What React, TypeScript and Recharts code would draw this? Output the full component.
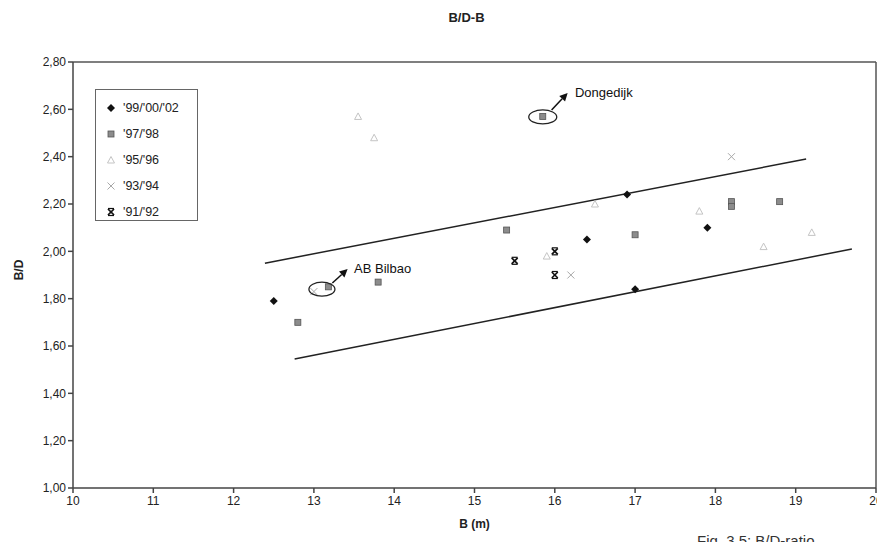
import React from "react";
import {
  ScatterChart,
  Scatter,
  XAxis,
  YAxis,
  Legend,
  ReferenceLine,
  ReferenceDot,
} from "recharts";

// ---- data ----
const s99_00_02 = [
  { x: 12.5, y: 1.79 },
  { x: 16.4, y: 2.05 },
  { x: 16.9, y: 2.24 },
  { x: 17.0, y: 1.84 },
  { x: 17.9, y: 2.1 },
];
const s97_98 = [
  { x: 12.8, y: 1.7 },
  { x: 13.18, y: 1.85 },
  { x: 13.8, y: 1.87 },
  { x: 15.4, y: 2.09 },
  { x: 15.85, y: 2.57 },
  { x: 17.0, y: 2.07 },
  { x: 18.2, y: 2.21 },
  { x: 18.2, y: 2.19 },
  { x: 18.8, y: 2.21 },
];
const s95_96 = [
  { x: 13.55, y: 2.57 },
  { x: 13.75, y: 2.48 },
  { x: 15.9, y: 1.98 },
  { x: 16.5, y: 2.2 },
  { x: 17.8, y: 2.17 },
  { x: 18.6, y: 2.02 },
  { x: 19.2, y: 2.08 },
];
const s93_94 = [
  { x: 13.0, y: 1.83 },
  { x: 16.2, y: 1.9 },
  { x: 18.2, y: 2.4 },
];
const s91_92 = [
  { x: 15.5, y: 1.96 },
  { x: 16.0, y: 2.0 },
  { x: 16.0, y: 1.9 },
];

const upperBand = [
  { x: 12.39, y: 1.95 },
  { x: 19.13, y: 2.39 },
];
const lowerBand = [
  { x: 12.76, y: 1.545 },
  { x: 19.7, y: 2.01 },
];

const xTicks = [10, 11, 12, 13, 14, 15, 16, 17, 18, 19, 20];
const yTicks = [1.0, 1.2, 1.4, 1.6, 1.8, 2.0, 2.2, 2.4, 2.6, 2.8];

// annotations
const bilbaoCircle = { x: 13.1, y: 1.84 };
const bilbaoArrow = [
  { x: 13.23, y: 1.866 },
  { x: 13.42, y: 1.925 },
];
const bilbaoText = { x: 13.5, y: 1.91, label: "AB Bilbao" };
const dongeCircle = { x: 15.85, y: 2.568 };
const dongeArrow = [
  { x: 15.96, y: 2.597 },
  { x: 16.16, y: 2.669 },
];
const dongeText = { x: 16.25, y: 2.652, label: "Dongedijk" };

const FONT = '"Liberation Sans", Arial, sans-serif';

// ---- marker shapes ----
type M = { cx: number; cy: number };

const Diamond = ({ cx, cy }: M) => (
  <polygon
    points={`${cx},${cy - 4} ${cx + 4},${cy} ${cx},${cy + 4} ${cx - 4},${cy}`}
    fill="#111"
  />
);
const Square = ({ cx, cy }: M) => (
  <rect x={cx - 3} y={cy - 3} width={6} height={6} fill="#8c8c8c" stroke="#555" strokeWidth={0.8} />
);
const Triangle = ({ cx, cy }: M) => (
  <polygon
    points={`${cx},${cy - 3.5} ${cx + 3.5},${cy + 3} ${cx - 3.5},${cy + 3}`}
    fill="none"
    stroke="#c4c4c4"
    strokeWidth={1}
  />
);
const LightX = ({ cx, cy }: M) => (
  <g stroke="#a8a8a8" strokeWidth={1}>
    <line x1={cx - 3.5} y1={cy - 3.5} x2={cx + 3.5} y2={cy + 3.5} />
    <line x1={cx - 3.5} y1={cy + 3.5} x2={cx + 3.5} y2={cy - 3.5} />
  </g>
);
const BoldX = ({ cx, cy }: M) => (
  <g stroke="#111" strokeWidth={1.7}>
    <line x1={cx - 3} y1={cy - 3} x2={cx + 3} y2={cy + 3} />
    <line x1={cx - 3} y1={cy + 3} x2={cx + 3} y2={cy - 3} />
    <line x1={cx - 3} y1={cy - 3.5} x2={cx + 3} y2={cy - 3.5} strokeWidth={1.2} />
    <line x1={cx - 3} y1={cy + 3.5} x2={cx + 3} y2={cy + 3.5} strokeWidth={1.2} />
  </g>
);

const SERIES = [
  { name: "'99/'00/'02", data: s99_00_02, Shape: Diamond },
  { name: "'97/'98", data: s97_98, Shape: Square },
  { name: "'95/'96", data: s95_96, Shape: Triangle },
  { name: "'93/'94", data: s93_94, Shape: LightX },
  { name: "'91/'92", data: s91_92, Shape: BoldX },
];

const LegendBox = () => (
  <div
    style={{
      border: "1px solid #666",
      background: "#fff",
      width: 103,
      height: 132,
      boxSizing: "border-box",
      paddingTop: 5,
      fontFamily: FONT,
      fontSize: 12.5,
      color: "#222",
    }}
  >
    {SERIES.map(({ name, Shape }) => (
      <div key={name} style={{ display: "flex", alignItems: "center", height: 26 }}>
        <svg width={22} height={12} style={{ marginLeft: 5 }}>
          <Shape cx={10} cy={6} />
        </svg>
        <span>{name}</span>
      </div>
    ))}
  </div>
);

const Arrow = (props: any) => {
  const { x1, y1, x2, y2 } = props;
  const ang = Math.atan2(y2 - y1, x2 - x1);
  const L = 8;
  const W = 4;
  const bx = x2 - L * Math.cos(ang);
  const by = y2 - L * Math.sin(ang);
  const px = -Math.sin(ang) * W;
  const py = Math.cos(ang) * W;
  return (
    <g>
      <line x1={x1} y1={y1} x2={bx} y2={by} stroke="#111" strokeWidth={1.5} />
      <polygon points={`${x2},${y2} ${bx + px},${by + py} ${bx - px},${by - py}`} fill="#111" />
    </g>
  );
};

const Ellipse = (rx: number, ry: number) => (props: any) => (
  <ellipse cx={props.cx} cy={props.cy} rx={rx} ry={ry} fill="none" stroke="#222" strokeWidth={1.3} />
);

const TextAt = (value: string) => (props: any) => (
  <text x={props.cx} y={props.cy} fontFamily={FONT} fontSize={13} fill="#111">
    {value}
  </text>
);

const fmt = (v: number) => v.toFixed(2).replace(".", ",");

export default function App() {
  return (
    <div
      style={{
        position: "absolute",
        left: 0,
        top: 0,
        width: 877,
        height: 542,
        background: "#fff",
        overflow: "hidden",
        fontFamily: FONT,
      }}
    >
      <div
        style={{
          position: "absolute",
          left: 0,
          width: 933,
          top: 10,
          textAlign: "center",
          fontWeight: "bold",
          fontSize: 13,
          color: "#222",
        }}
      >
        B/D-B
      </div>
      <div style={{ position: "absolute", left: 697, top: 532, fontSize: 15, color: "#333" }}>
        Fig. 3.5: B/D-ratio
      </div>
      <ScatterChart
        width={877}
        height={542}
        margin={{ top: 62, right: 1, bottom: 0, left: 0 }}
      >
        <XAxis
          type="number"
          dataKey="x"
          domain={[10, 20]}
          ticks={xTicks}
          interval={0}
          allowDataOverflow
          height={54}
          tickSize={5}
          tickMargin={3}
          stroke="#444"
          strokeWidth={1.5}
          tick={{ fontSize: 12, fill: "#222", fontFamily: FONT }}
          label={({ viewBox }: any) => (
            <text
              x={viewBox.x + viewBox.width / 2}
              y={viewBox.y + 40}
              textAnchor="middle"
              fontWeight="bold"
              fontSize={12}
              fill="#222"
              fontFamily={FONT}
            >
              B (m)
            </text>
          )}
        />
        <YAxis
          type="number"
          dataKey="y"
          domain={[1, 2.8]}
          ticks={yTicks}
          interval={0}
          allowDataOverflow
          width={73}
          tickSize={5}
          tickMargin={2}
          stroke="#444"
          strokeWidth={1.5}
          tickFormatter={fmt}
          tick={{ fontSize: 12, fill: "#222", fontFamily: FONT }}
          label={({ viewBox }: any) => (
            <text
              x={20}
              y={viewBox.y + viewBox.height / 2 - 5}
              textAnchor="middle"
              dominantBaseline="middle"
              fontWeight="bold"
              fontSize={12}
              fill="#222"
              fontFamily={FONT}
              transform={`rotate(-90 20 ${viewBox.y + viewBox.height / 2 - 5})`}
            >
              B/D
            </text>
          )}
        />
        <ReferenceLine y={2.8} stroke="#555" strokeWidth={1.5} />
        <ReferenceLine x={20} stroke="#555" strokeWidth={1.5} />
        <ReferenceLine segment={upperBand} stroke="#222" strokeWidth={1.5} />
        <ReferenceLine segment={lowerBand} stroke="#222" strokeWidth={1.5} />

        {SERIES.map(({ name, data, Shape }) => (
          <Scatter
            key={name}
            name={name}
            data={data}
            isAnimationActive={false}
            shape={(p: any) => <Shape cx={p.cx} cy={p.cy} />}
          />
        ))}

        <ReferenceDot x={bilbaoCircle.x} y={bilbaoCircle.y} shape={Ellipse(13, 7)} />
        <ReferenceLine segment={bilbaoArrow} shape={Arrow} />
        <ReferenceDot x={bilbaoText.x} y={bilbaoText.y} shape={TextAt(bilbaoText.label)} />
        <ReferenceDot x={dongeCircle.x} y={dongeCircle.y} shape={Ellipse(14, 7)} />
        <ReferenceLine segment={dongeArrow} shape={Arrow} />
        <ReferenceDot x={dongeText.x} y={dongeText.y} shape={TextAt(dongeText.label)} />

        <Legend
          layout="horizontal"
          align="center"
          verticalAlign="middle"
          content={() => <LegendBox />}
          wrapperStyle={{ left: 95, top: 89, width: 103, height: 132 }}
        />
      </ScatterChart>
    </div>
  );
}
